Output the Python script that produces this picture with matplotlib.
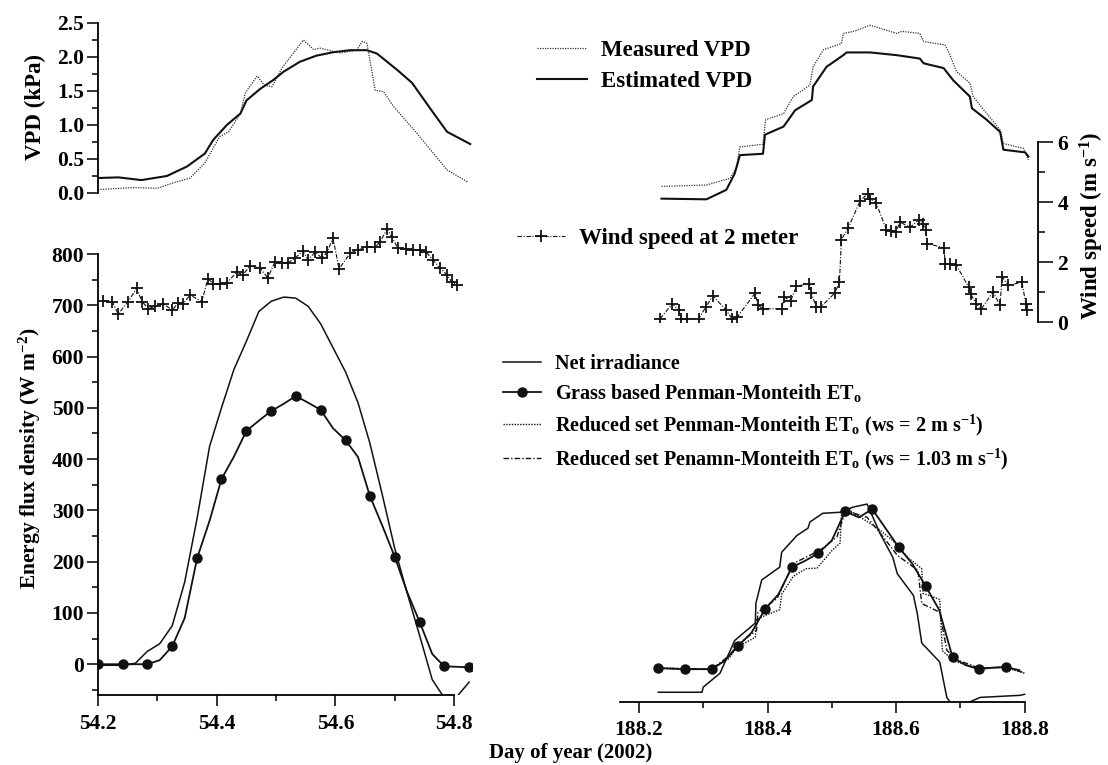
import matplotlib
matplotlib.use("Agg")
import matplotlib.pyplot as plt

plt.rcParams['font.family'] = 'Liberation Serif'
plt.rcParams['font.weight'] = 'bold'
plt.rcParams['font.size'] = 15
plt.rcParams['mathtext.fontset'] = 'custom'
plt.rcParams['mathtext.rm'] = 'Liberation Serif:bold'
plt.rcParams['mathtext.it'] = 'Liberation Serif:bold'
plt.rcParams['mathtext.bf'] = 'Liberation Serif:bold'

INK = '#111111'

# ---- DOY 54 (winter day) ----
vpd_est_t_54 = [54.200, 54.234, 54.273, 54.316, 54.350, 54.380, 54.394, 54.417, 54.440, 54.450,
                54.473, 54.495, 54.512, 54.540, 54.568, 54.596, 54.625, 54.653, 54.670, 54.704,
                54.729, 54.759, 54.788, 54.827]
vpd_est_54 = [0.22, 0.23, 0.19, 0.25, 0.39, 0.58, 0.78, 1.00, 1.17, 1.36,
              1.53, 1.66, 1.78, 1.93, 2.02, 2.07, 2.10, 2.10, 2.05, 1.81,
              1.62, 1.25, 0.90, 0.72]
vpd_meas_t_54 = [54.200, 54.260, 54.300, 54.327, 54.355, 54.380, 54.405, 54.420, 54.440, 54.448,
                 54.468, 54.480, 54.493, 54.510, 54.546, 54.563, 54.574, 54.608, 54.636, 54.645,
                 54.653, 54.667, 54.681, 54.698, 54.737, 54.788, 54.823]
vpd_meas_54 = [0.05, 0.08, 0.07, 0.15, 0.22, 0.44, 0.83, 0.90, 1.17, 1.47,
               1.72, 1.59, 1.56, 1.84, 2.25, 2.11, 2.13, 2.06, 2.10, 2.23,
               2.20, 1.51, 1.49, 1.27, 0.88, 0.34, 0.16]

wind_t_54 = [54.208, 54.224, 54.234, 54.251, 54.265, 54.274, 54.285, 54.296, 54.310, 54.325,
             54.335, 54.343, 54.355, 54.375, 54.385, 54.394, 54.406, 54.417, 54.434, 54.444,
             54.456, 54.473, 54.486, 54.498, 54.510, 54.520, 54.532, 54.545, 54.554, 54.566,
             54.577, 54.586, 54.596, 54.606, 54.625, 54.638, 54.653, 54.667, 54.675, 54.687,
             54.695, 54.705, 54.719, 54.730, 54.742, 54.753, 54.764, 54.776, 54.788, 54.796,
             54.805]
wind_54 = [0.70, 0.68, 0.27, 0.68, 1.13, 0.68, 0.45, 0.52, 0.60, 0.40,
           0.63, 0.60, 0.90, 0.68, 1.45, 1.28, 1.28, 1.30, 1.67, 1.57,
           1.87, 1.80, 1.47, 2.00, 1.97, 1.97, 2.13, 2.37, 2.07, 2.33,
           2.13, 2.33, 2.80, 1.77, 2.30, 2.40, 2.50, 2.50, 2.67, 3.10,
           2.83, 2.47, 2.43, 2.40, 2.40, 2.33, 2.07, 1.80, 1.57, 1.33,
           1.23]

flux_t_54 = [54.200, 54.221, 54.242, 54.263, 54.283, 54.304, 54.325, 54.346, 54.367, 54.388,
             54.408, 54.429, 54.450, 54.471, 54.492, 54.513, 54.533, 54.554, 54.575, 54.596,
             54.617, 54.638, 54.658, 54.679, 54.700, 54.721, 54.742, 54.763, 54.783, 54.804,
             54.825]
rn_54 = [-2, -2, -2, 2, 25, 40, 75, 160, 285, 425,
         500, 575, 630, 688, 708, 716, 714, 698, 664, 617,
         570, 510, 431, 330, 225, 138, 55, -30, -65, -64,
         -35]
eto_grass_54 = [0, 0, 0, 0, 0, 8, 35, 90, 207, 280,
                361, 405, 455, 475, 494, 508, 523, 510, 496, 460,
                437, 404, 328, 270, 209, 140, 82, 20, -4, -5,
                -6]

# ---- DOY 188 (summer day) ----
vpd_meas_t_188 = [188.235, 188.305, 188.342, 188.352, 188.357, 188.393, 188.397, 188.425, 188.440, 188.466,
                  188.471, 188.487, 188.515, 188.518, 188.534, 188.560, 188.601, 188.609, 188.637, 188.643,
                  188.676, 188.684, 188.694, 188.715, 188.720, 188.762, 188.767, 188.798, 188.806]
vpd_meas_188 = [0.20, 0.22, 0.32, 0.49, 0.78, 0.82, 1.18, 1.27, 1.52, 1.69,
                1.96, 2.21, 2.30, 2.45, 2.48, 2.57, 2.45, 2.48, 2.45, 2.33,
                2.28, 2.13, 1.89, 1.72, 1.52, 1.03, 0.83, 0.76, 0.59]
vpd_est_t_188 = [188.235, 188.305, 188.336, 188.349, 188.357, 188.393, 188.396, 188.425, 188.443, 188.469,
                 188.471, 188.492, 188.518, 188.523, 188.560, 188.601, 188.637, 188.643, 188.674, 188.689,
                 188.715, 188.718, 188.741, 188.762, 188.767, 188.801, 188.806]
vpd_est_188 = [0.02, 0.01, 0.15, 0.39, 0.66, 0.68, 0.96, 1.08, 1.32, 1.47,
               1.67, 1.96, 2.13, 2.17, 2.17, 2.13, 2.08, 2.01, 1.94, 1.76,
               1.52, 1.35, 1.18, 1.00, 0.74, 0.70, 0.64]

wind_t_188 = [188.233, 188.252, 188.262, 188.266, 188.274, 188.293, 188.304, 188.315, 188.335, 188.345,
              188.353, 188.381, 188.385, 188.393, 188.422, 188.426, 188.436, 188.445, 188.465, 188.468,
              188.476, 188.483, 188.505, 188.512, 188.515, 188.526, 188.544, 188.556, 188.560, 188.569,
              188.585, 188.593, 188.600, 188.606, 188.622, 188.636, 188.642, 188.646, 188.649, 188.674,
              188.677, 188.684, 188.694, 188.713, 188.716, 188.725, 188.733, 188.751, 188.762, 188.765,
              188.775, 188.796, 188.802, 188.804]
wind_188 = [0.11, 0.61, 0.39, 0.11, 0.11, 0.11, 0.50, 0.87, 0.41, 0.11,
            0.17, 0.97, 0.57, 0.44, 0.44, 0.83, 0.70, 1.19, 1.28, 0.97,
            0.50, 0.50, 0.97, 1.33, 2.75, 3.15, 4.03, 4.28, 4.10, 3.97,
            3.08, 3.05, 3.00, 3.33, 3.16, 3.41, 3.28, 3.06, 2.61, 2.48,
            1.95, 1.95, 1.89, 1.17, 0.94, 0.61, 0.44, 1.00, 0.56, 1.50,
            1.22, 1.33, 0.61, 0.39]

rn_t_188 = [188.230, 188.298, 188.300, 188.326, 188.349, 188.381, 188.382, 188.391, 188.419, 188.422,
            188.446, 188.463, 188.466, 188.486, 188.513, 188.533, 188.555, 188.575, 188.595, 188.602,
            188.627, 188.633, 188.640, 188.668, 188.679, 188.684, 188.704, 188.720, 188.731, 188.793,
            188.800]
rn_188 = [-41, -41, -31, -4, 60, 94, 133, 178, 203, 232,
          265, 279, 291, 308, 310, 320, 326, 269, 222, 190,
          148, 113, 55, 18, -51, -60, -66, -57, -51, -47,
          -45]

grass_t_188 = [188.229, 188.250, 188.271, 188.292, 188.313, 188.333, 188.354, 188.375, 188.396, 188.417,
               188.438, 188.458, 188.479, 188.500, 188.521, 188.542, 188.563, 188.583, 188.604, 188.625,
               188.646, 188.667, 188.688, 188.708, 188.729, 188.750, 188.771, 188.792]
eto_grass_188 = [6, 5, 4, 4, 4, 20, 49, 75, 121, 150,
                 203, 215, 230, 255, 312, 300, 316, 280, 242, 210,
                 166, 120, 27, 12, 4, 7, 8, 2]

ws2_t_188 = [188.230, 188.313, 188.340, 188.352, 188.381, 188.383, 188.395, 188.419, 188.422, 188.440,
             188.460, 188.477, 188.500, 188.513, 188.515, 188.530, 188.545, 188.570, 188.595, 188.620,
             188.640, 188.642, 188.668, 188.672, 188.690, 188.730, 188.770, 188.800]
eto_ws2_188 = [6, 4, 25, 47, 66, 100, 108, 120, 150, 185,
               200, 201, 235, 250, 305, 312, 300, 280, 255, 220,
               200, 152, 140, 40, 20, 5, 8, -4]

ws103_t_188 = [188.230, 188.313, 188.340, 188.354, 188.383, 188.385, 188.415, 188.440, 188.482, 188.508,
               188.518, 188.530, 188.555, 188.580, 188.602, 188.634, 188.640, 188.668, 188.679, 188.695,
               188.730, 188.770, 188.800]
eto_ws103_188 = [6, 4, 30, 52, 80, 115, 142, 210, 236, 262,
                 300, 310, 300, 262, 226, 197, 132, 115, 41, 22,
                 6, 8, -3]

W, H = 1108, 765
fig = plt.figure(figsize=(W / 100, H / 100), dpi=100)


def add_axes_px(x0, x1, ytop, ybot):
    ax = fig.add_axes([x0 / W, 1 - ybot / H, (x1 - x0) / W, (ybot - ytop) / H])
    ax.set_facecolor('none')
    for s in ax.spines.values():
        s.set_visible(False)
    ax.tick_params(which='both', direction='out', color=INK, width=1.2,
                   labelsize=15.5, pad=2)
    ax.tick_params(which='major', length=8)
    ax.tick_params(which='minor', length=4)
    return ax


# left block axes
vpd_l = add_axes_px(98, 472, 23, 193)
flux_l = add_axes_px(98, 472, 254, 695)
wind_l = add_axes_px(98, 472, 142, 322)
# right block axes (drawn a few pixels lower)
vpd_r = add_axes_px(619.7, 1031, 30, 200)
flux_r = add_axes_px(619.7, 1031, 261, 702)
wind_r = add_axes_px(619.7, 1038, 142, 322)

for ax in (vpd_l, flux_l, wind_l):
    ax.set_xlim(54.2, 54.83)
for ax in (vpd_r, flux_r):
    ax.set_xlim(188.17, 188.81)
wind_r.set_xlim(188.17, 188.821)
for ax in (vpd_l, vpd_r):
    ax.set_ylim(0, 2.5)
for ax in (flux_l, flux_r):
    ax.set_ylim(-60, 800)
for ax in (wind_l, wind_r):
    ax.set_ylim(0, 6)

# VPD
m_vpd, = vpd_l.plot(vpd_meas_t_54, vpd_meas_54, ls=(0, (1, 1)), lw=0.9, color='#333333',
                    label='Measured VPD')
e_vpd, = vpd_l.plot(vpd_est_t_54, vpd_est_54, ls='-', lw=1.5, color=INK, label='Estimated VPD')
vpd_r.plot(vpd_meas_t_188, vpd_meas_188, ls=(0, (1, 1)), lw=0.9, color='#333333', clip_on=False)
vpd_r.plot(vpd_est_t_188, vpd_est_188, ls='-', lw=1.5, color=INK, clip_on=False)

vpd_l.spines['left'].set_visible(True)
vpd_l.spines['left'].set_linewidth(1.3)
vpd_l.set_yticks([0, 0.5, 1.0, 1.5, 2.0, 2.5])
vpd_l.set_yticklabels(['0.0', '0.5', '1.0', '1.5', '2.0', '2.5'])
vpd_l.set_yticks([0.25, 0.75, 1.25, 1.75, 2.25], minor=True)
vpd_l.set_xticks([])
vpd_r.set_xticks([])
vpd_r.set_yticks([])

# wind speed
wind_style = dict(ls=(0, (4, 1.5, 1, 1.5)), lw=0.8, color=INK, marker='+', ms=8.5, mew=1.3)
w_line, = wind_l.plot(wind_t_54, wind_54, label='Wind speed at 2 meter', **wind_style)
wind_r.plot(wind_t_188, wind_188, **wind_style)
for ax in (wind_l, wind_r):
    ax.set_xticks([])
wind_l.set_yticks([])
wind_r.spines['right'].set_visible(True)
wind_r.spines['right'].set_linewidth(1.3)
wind_r.yaxis.tick_right()
wind_r.set_yticks([0, 2, 4, 6])
wind_r.set_yticks([1, 3, 5], minor=True)
wind_r.tick_params(which='major', length=11, pad=3)
wind_r.tick_params(which='minor', length=5)

# energy fluxes
rn_line, = flux_l.plot(flux_t_54, rn_54, ls='-', lw=1.1, color=INK, label='Net irradiance')
g_line, = flux_l.plot(flux_t_54, eto_grass_54, ls='-', lw=1.3, color=INK, marker='o', ms=6.5,
                      markevery=2, label='Grass based Penman-Monteith ET$_\\mathrm{o}$')
flux_r.plot(rn_t_188, rn_188, ls='-', lw=1.1, color=INK)
flux_r.plot(grass_t_188, eto_grass_188, ls='-', lw=1.3, color=INK, marker='o', ms=6.5,
            markevery=list(range(0, 28, 2)))
ws2_line, = flux_r.plot(ws2_t_188, eto_ws2_188, ls=(0, (1, 1)), lw=1.0, color=INK,
                        label='Reduced set Penman-Monteith ET$_\\mathrm{o}$ (ws = 2 m s$^{-1}$)')
ws103_line, = flux_r.plot(ws103_t_188, eto_ws103_188, ls=(0, (4, 1.5, 1, 1.5)), lw=1.0, color=INK,
                          label='Reduced set Penamn-Monteith ET$_\\mathrm{o}$ (ws = 1.03 m s$^{-1}$)')

flux_l.spines['left'].set_visible(True)
flux_l.spines['bottom'].set_visible(True)
flux_l.spines['left'].set_linewidth(1.3)
flux_l.spines['bottom'].set_linewidth(1.3)
flux_l.spines['bottom'].set_bounds(54.2, 54.8)
flux_l.set_yticks(range(0, 801, 100))
flux_l.set_yticks(range(-50, 800, 100), minor=True)
flux_l.set_xticks([54.2, 54.4, 54.6, 54.8])
flux_l.set_xticklabels(['54.2', '54.4', '54.6', '54.8'])
flux_l.set_xticks([54.3, 54.5, 54.7], minor=True)
flux_l.tick_params(axis='x', pad=6)

flux_r.spines['bottom'].set_visible(True)
flux_r.spines['bottom'].set_linewidth(1.3)
flux_r.spines['bottom'].set_bounds(188.17, 188.8)
flux_r.set_yticks([])
flux_r.set_xticks([188.2, 188.4, 188.6, 188.8])
flux_r.set_xticklabels(['188.2', '188.4', '188.6', '188.8'])
flux_r.set_xticks([188.3, 188.5, 188.7], minor=True)
flux_r.tick_params(axis='x', pad=5)

# legends
leg_kw = dict(loc='upper left', frameon=False, borderpad=0, borderaxespad=0,
              handletextpad=0.6)
fig.legend(handles=[m_vpd, e_vpd], bbox_to_anchor=(537 / W, 1 - 40 / H),
           handlelength=2.2, fontsize=16.5, labelspacing=0.42, **leg_kw)
fig.legend(handles=[w_line], bbox_to_anchor=(517 / W, 1 - 228 / H),
           handlelength=2.1, fontsize=16.5, **leg_kw)
fig.legend(handles=[rn_line, g_line, ws2_line, ws103_line], bbox_to_anchor=(503 / W, 1 - 354 / H),
           handlelength=1.9, fontsize=14.5, labelspacing=0.42, handletextpad=0.7,
           loc='upper left', frameon=False, borderpad=0, borderaxespad=0)

# axis titles
fig.text(35 / W, 1 - 107 / H, 'VPD (kPa)', rotation=90, ha='center', va='center', fontsize=16.5)
fig.text(30 / W, 1 - 458 / H, 'Energy flux density (W m$^{-2}$)', rotation=90,
         ha='center', va='center', fontsize=15.5)
fig.text(1092 / W, 1 - 226 / H, 'Wind speed (m s$^{-1}$)', rotation=90,
         ha='center', va='center', fontsize=16.5)
fig.text(571 / W, 1 - 753 / H, 'Day of year (2002)', ha='center', va='center', fontsize=15)

fig.savefig('out.png', dpi=100)
